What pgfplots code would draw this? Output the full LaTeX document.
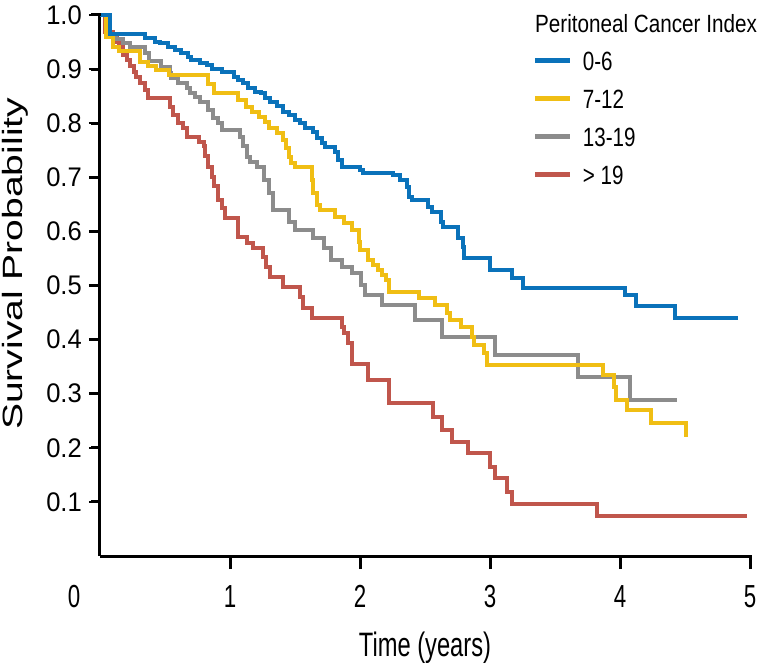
\documentclass[border=0pt]{standalone}
\usepackage{fontspec}
\setmainfont{Liberation Sans}
\newfontfamily\fYtick[FakeStretch=0.95]{Liberation Sans}
\newfontfamily\fXtick[FakeStretch=0.70]{Liberation Sans}
\newfontfamily\fYlab[FakeStretch=1.40]{Liberation Sans}
\newfontfamily\fLegT[FakeStretch=0.83]{Liberation Sans}
\newfontfamily\fLeg[FakeStretch=0.78]{Liberation Sans}
\usepackage{pgfplots}
\pgfplotsset{compat=1.18}

\definecolor{cBlue}{RGB}{10,114,186}
\definecolor{cYellow}{RGB}{240,190,20}
\definecolor{cGray}{RGB}{140,140,140}
\definecolor{cRed}{RGB}{192,86,76}

\newcommand{\xt}{\rule{3bp}{14bp}}
\newcommand{\yt}{\rule[-1.5bp]{10bp}{3bp}}

\begin{document}
\begin{tikzpicture}
\path (-100bp,-112bp) rectangle (667bp,556bp);
\begin{axis}[
  scale only axis, width=650bp, height=541bp,
  at={(0,0)}, anchor=south west,
  xmin=0, xmax=5, ymin=0, ymax=1,
  axis lines=left,
  axis line style={line width=3bp, black, -},
  xtick={1,2,3,4,5}, xticklabels={1,2,3,4,5},
  ytick={0.1,0.2,0.3,0.4,0.5,0.6,0.7,0.8,0.9,1.0},
  yticklabels={0.1,0.2,0.3,0.4,0.5,0.6,0.7,0.8,0.9,1.0},
  tick align=outside, major tick length=11bp,
  tick style={black, line width=2.5bp},
  xticklabel style={font=\fXtick\fontsize{32}{32}\selectfont, inner sep=0pt, anchor=north, yshift=-18bp},
  yticklabel style={font=\fYtick\fontsize{27}{27}\selectfont, inner sep=0pt, anchor=east, xshift=-7bp},
  xlabel={Time (years)},
  xlabel style={at={(axis description cs:0.5,0)}, anchor=base, yshift=-100bp, inner sep=0pt,
    font=\fXtick\fontsize{34}{34}\selectfont},
  ylabel={Survival Probability},
  ylabel style={at={(axis description cs:-0.1308,0.540)}, rotate=0, anchor=center, inner sep=0pt,
    font=\fYlab\fontsize{28}{28}\selectfont},
  clip=false,
  reverse legend,
  legend cell align=left,
  legend style={at={(0.666,0.9326)}, anchor=north west, draw=none, fill=none,
    inner sep=0pt, outer sep=0pt, font=\fLeg\fontsize{26.5}{26.5}\selectfont,
    row sep=19bp, nodes={inner sep=0pt, text height=19bp, text depth=0bp},
    /tikz/every odd column/.append style={column sep=10bp}},
  legend image code/.code={\draw[#1, line width=5bp] (0bp,0bp) -- (35bp,0bp);},
]
% > 19
\addplot[const plot, cRed, line width=4bp] coordinates {
(0,1.0) (0.04,0.969) (0.10,0.96) (0.13,0.95) (0.15,0.94) (0.18,0.926) (0.21,0.917)
(0.23,0.905) (0.26,0.895) (0.28,0.886) (0.31,0.874) (0.35,0.861) (0.37,0.846)
(0.54,0.83) (0.56,0.815) (0.60,0.80) (0.64,0.791) (0.67,0.775) (0.76,0.766)
(0.80,0.757) (0.81,0.74) (0.83,0.719) (0.86,0.70) (0.88,0.683) (0.91,0.658)
(0.94,0.643) (0.96,0.625) (1.06,0.59) (1.13,0.578) (1.18,0.569) (1.25,0.553)
(1.28,0.534) (1.31,0.516) (1.41,0.497) (1.54,0.479) (1.56,0.458) (1.63,0.440)
(1.86,0.423) (1.88,0.412) (1.91,0.394) (1.94,0.355) (2.06,0.325) (2.22,0.283)
(2.56,0.257) (2.63,0.233) (2.71,0.211) (2.83,0.190) (3.00,0.165) (3.04,0.144)
(3.13,0.118) (3.17,0.096) (3.82,0.074) (4.98,0.074)};
\addlegendentry{> 19}
% 13-19
\addplot[const plot, cGray, line width=4bp] coordinates {
(0,1.0) (0.06,0.965) (0.12,0.955) (0.18,0.948) (0.23,0.940) (0.35,0.929) (0.38,0.915)
(0.47,0.904) (0.54,0.893) (0.55,0.883) (0.60,0.874) (0.67,0.865) (0.69,0.855)
(0.73,0.848) (0.77,0.840) (0.83,0.824) (0.87,0.809) (0.91,0.800) (0.94,0.787)
(1.08,0.775) (1.10,0.757) (1.13,0.738) (1.15,0.729) (1.21,0.719) (1.26,0.695)
(1.30,0.671) (1.33,0.640) (1.45,0.617) (1.50,0.603) (1.64,0.588) (1.72,0.569)
(1.78,0.547) (1.86,0.534) (1.94,0.523) (2.01,0.501) (2.04,0.482) (2.17,0.464)
(2.42,0.436) (2.63,0.405) (3.04,0.372) (3.68,0.331) (4.08,0.288) (4.44,0.288)};
\addlegendentry{13-19}
% 7-12
\addplot[const plot, cYellow, line width=4bp] coordinates {
(0,1.0) (0.05,0.96) (0.10,0.94) (0.15,0.933) (0.31,0.914) (0.37,0.905) (0.43,0.898)
(0.53,0.889) (0.83,0.872) (0.88,0.856) (1.06,0.843) (1.12,0.830) (1.17,0.820)
(1.22,0.811) (1.27,0.803) (1.30,0.791) (1.36,0.781) (1.41,0.769) (1.43,0.754)
(1.45,0.738) (1.47,0.726) (1.50,0.719) (1.63,0.695) (1.64,0.671) (1.67,0.649)
(1.69,0.640) (1.81,0.627) (1.88,0.615) (1.94,0.603) (1.99,0.581) (2.00,0.566)
(2.06,0.547) (2.10,0.538) (2.14,0.529) (2.17,0.519) (2.20,0.510) (2.22,0.488)
(2.45,0.477) (2.58,0.464) (2.67,0.449) (2.69,0.436) (2.78,0.423) (2.86,0.405)
(2.88,0.390) (2.95,0.375) (2.98,0.353) (3.87,0.335) (3.95,0.313) (3.97,0.288)
(4.05,0.270) (4.24,0.246) (4.51,0.220)};
\addlegendentry{7-12}
% 0-6
\addplot[const plot, cBlue, line width=4bp] coordinates {
(0,1.0) (0.08,0.965) (0.35,0.957) (0.42,0.951) (0.46,0.948) (0.52,0.941) (0.58,0.935)
(0.62,0.929) (0.68,0.923) (0.70,0.917) (0.77,0.911) (0.82,0.908) (0.86,0.901)
(0.94,0.895) (1.03,0.886) (1.06,0.880) (1.10,0.874) (1.14,0.865) (1.19,0.858)
(1.24,0.855) (1.27,0.846) (1.31,0.840) (1.36,0.831) (1.41,0.821) (1.45,0.815)
(1.50,0.806) (1.54,0.800) (1.58,0.791) (1.64,0.784) (1.67,0.773) (1.71,0.763)
(1.73,0.756) (1.81,0.747) (1.83,0.732) (1.86,0.719) (2.00,0.713) (2.02,0.708)
(2.25,0.704) (2.31,0.695) (2.36,0.682) (2.38,0.664) (2.40,0.658) (2.52,0.645)
(2.55,0.636) (2.62,0.617) (2.64,0.608) (2.75,0.588) (2.79,0.571) (2.80,0.551)
(3.00,0.529) (3.17,0.514) (3.25,0.495) (4.04,0.482) (4.12,0.462) (4.42,0.440)
(4.91,0.440)};
\addlegendentry{0-6}
\end{axis}
% tick marks set as TeX rules (axis box: 650bp x 541bp from the origin)
\foreach \x in {130,260,390,520,650}
  \node[inner sep=0pt, outer sep=0pt, anchor=north] at (\x bp,1bp) {\xt};
\foreach \y in {54.1,108.2,162.3,216.4,270.5,324.6,378.7,432.8,486.9,541}
  \node[inner sep=0pt, outer sep=0pt, anchor=east] at (1bp,\y bp) {\yt};
\node[anchor=north, inner sep=0pt, font=\fXtick\fontsize{32}{32}\selectfont] at (-26bp,-29bp) {0};
\node[anchor=base west, inner sep=0pt, font=\fLegT\fontsize{25}{25}\selectfont] at (435bp,523bp) {Peritoneal Cancer Index};
\end{tikzpicture}
\end{document}
